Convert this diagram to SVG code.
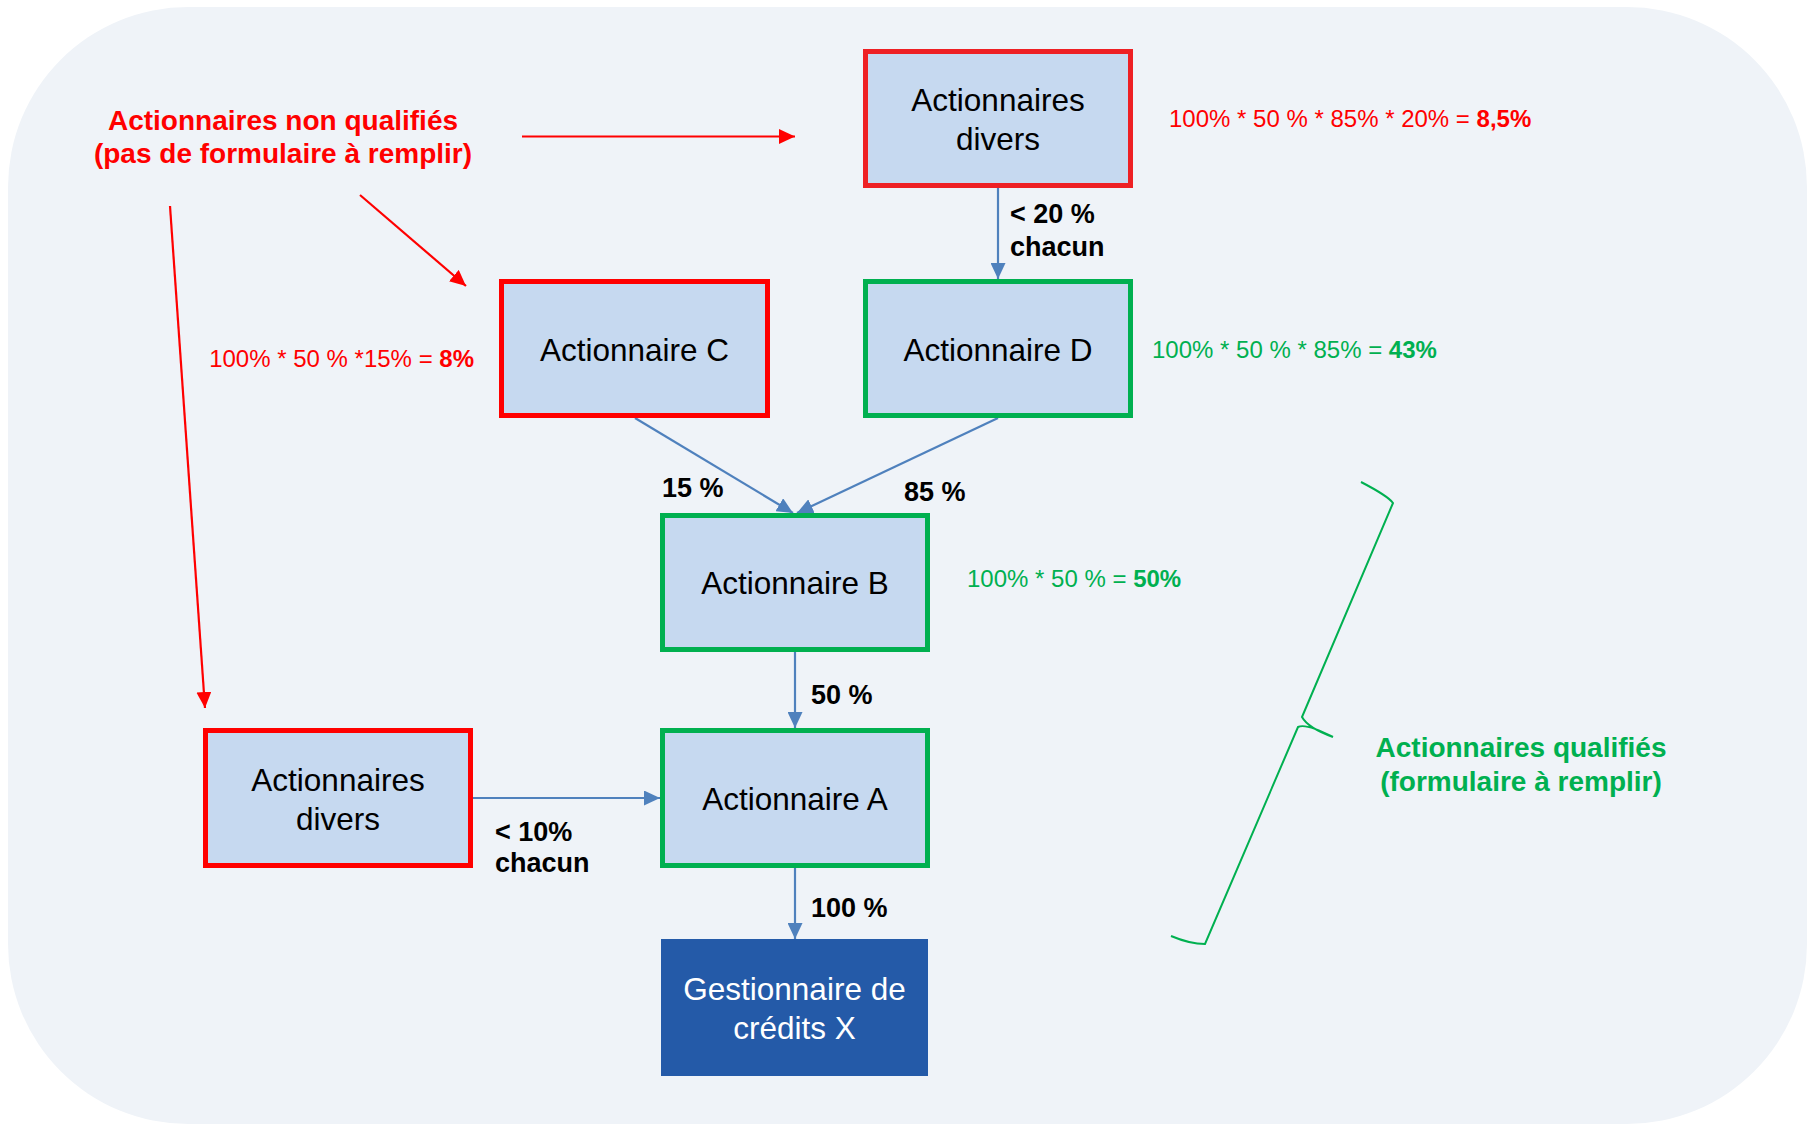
<svg xmlns="http://www.w3.org/2000/svg" width="1808" height="1124" viewBox="0 0 1808 1124">
<style>
.box{fill:#C6D9F0;stroke-width:5}
.red{stroke:#FF0000}
.red2{stroke:#EE2024}
.green{stroke:#00B050}
.bt{font-family:"Liberation Sans",Arial,sans-serif;font-size:31.5px;fill:#000;text-anchor:middle}
.wt{font-family:"Liberation Sans",Arial,sans-serif;font-size:31.5px;fill:#fff;text-anchor:middle}
.lbl{font-family:"Liberation Sans",Arial,sans-serif;font-size:27px;font-weight:bold;fill:#000}
.f{font-family:"Liberation Sans",Arial,sans-serif;font-size:24px}
.big{font-family:"Liberation Sans",Arial,sans-serif;font-size:28px;font-weight:bold;text-anchor:middle}
.blue{stroke:#4F81BD;stroke-width:2.2;fill:none}
.rl{stroke:#FF0000;stroke-width:2.2;fill:none}
</style>
<defs>
<marker id="ab" viewBox="0 0 16 15" refX="16" refY="7.5" markerWidth="16" markerHeight="15" markerUnits="userSpaceOnUse" orient="auto"><path d="M0,0 L16,7.5 L0,15 Z" fill="#4F81BD"/></marker>
<marker id="ar" viewBox="0 0 16 15" refX="16" refY="7.5" markerWidth="16" markerHeight="15" markerUnits="userSpaceOnUse" orient="auto"><path d="M0,0 L16,7.5 L0,15 Z" fill="#FF0000"/></marker>
</defs>
<rect x="8" y="7" width="1799" height="1117" rx="180" ry="180" fill="#EFF3F8"/>

<g id="connectors">
<path class="blue" d="M998,188 L998,279" marker-end="url(#ab)"/>
<path class="blue" d="M635,418 L793,513" marker-end="url(#ab)"/>
<path class="blue" d="M998,418 L797,513" marker-end="url(#ab)"/>
<path class="blue" d="M795,652 L795,728" marker-end="url(#ab)"/>
<path class="blue" d="M795,868 L795,939" marker-end="url(#ab)"/>
<path class="blue" d="M473,798 L660,798" marker-end="url(#ab)"/>
<path class="rl" d="M522,136.5 L795,136.5" marker-end="url(#ar)"/>
<path class="rl" d="M360,195 L466,286" marker-end="url(#ar)"/>
<path class="rl" d="M170,206 L205,708" marker-end="url(#ar)"/>
</g>

<g id="node-divers-top">
<rect class="box red2" x="865.5" y="51.5" width="265" height="134"/>
<text class="bt" x="998" y="111">Actionnaires</text>
<text class="bt" x="998" y="150">divers</text>
</g>
<g id="node-C">
<rect class="box red" x="501.5" y="281.5" width="266" height="134"/>
<text class="bt" x="634.5" y="361">Actionnaire C</text>
</g>
<g id="node-D">
<rect class="box green" x="865.5" y="281.5" width="265" height="134"/>
<text class="bt" x="998" y="361">Actionnaire D</text>
</g>
<g id="node-B">
<rect class="box green" x="662.5" y="515.5" width="265" height="134"/>
<text class="bt" x="795" y="594">Actionnaire B</text>
</g>
<g id="node-A">
<rect class="box green" x="662.5" y="730.5" width="265" height="135"/>
<text class="bt" x="795" y="810">Actionnaire A</text>
</g>
<g id="node-divers-left">
<rect class="box red" x="205.5" y="730.5" width="265" height="135"/>
<text class="bt" x="338" y="790.5">Actionnaires</text>
<text class="bt" x="338" y="829.5">divers</text>
</g>
<g id="node-gestionnaire">
<rect x="661" y="939" width="267" height="137" fill="#245AA8"/>
<text class="wt" x="794.5" y="1000">Gestionnaire de</text>
<text class="wt" x="794.5" y="1039">crédits X</text>
</g>

<g id="edge-labels">
<text class="lbl" x="1010" y="223">&lt; 20 %</text>
<text class="lbl" x="1010" y="256">chacun</text>
<text class="lbl" x="662" y="497">15 %</text>
<text class="lbl" x="904" y="501">85 %</text>
<text class="lbl" x="811" y="704">50 %</text>
<text class="lbl" x="811" y="917">100 %</text>
<text class="lbl" x="495" y="841">&lt; 10%</text>
<text class="lbl" x="495" y="872">chacun</text>
</g>

<g id="formulas">
<text class="f" x="1169" y="127" fill="#FF0000">100% * 50 % * 85% * 20% = <tspan font-weight="bold">8,5%</tspan></text>
<text class="f" x="1152" y="358" fill="#00B050">100% * 50 % * 85% = <tspan font-weight="bold">43%</tspan></text>
<text class="f" x="474" y="367" fill="#FF0000" text-anchor="end">100% * 50 % *15% = <tspan font-weight="bold">8%</tspan></text>
<text class="f" x="967" y="587" fill="#00B050">100% * 50 % = <tspan font-weight="bold">50%</tspan></text>
</g>

<g id="label-non-qualifies">
<text class="big" x="283" y="130" fill="#FF0000">Actionnaires non qualifiés</text>
<text class="big" x="283" y="163" fill="#FF0000">(pas de formulaire à remplir)</text>
</g>

<g id="label-qualifies">
<path d="M1361,482 Q1388,496 1393,503 L1302,717 Q1308,728 1333,737 M1333,737 Q1306,723 1298,727 L1205,944 Q1190,944 1171,936" fill="none" stroke="#00B050" stroke-width="2"/>
<text class="big" x="1521" y="757" fill="#00B050">Actionnaires qualifiés</text>
<text class="big" x="1521" y="791" fill="#00B050">(formulaire à remplir)</text>
</g>
</svg>
